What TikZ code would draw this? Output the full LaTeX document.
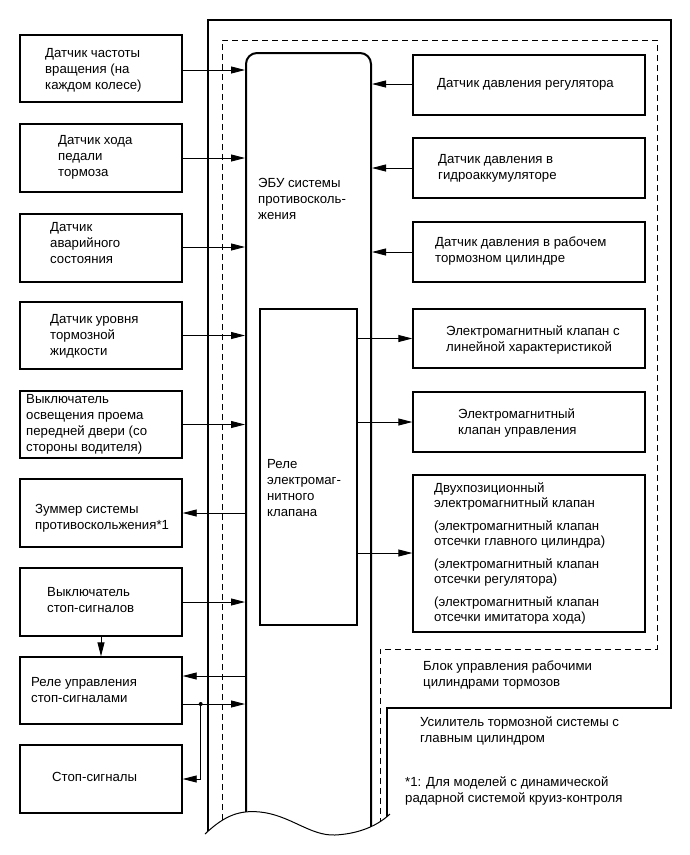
\documentclass[tikz,border=0pt]{standalone}
\usepackage{fontspec}
\setmainfont{Liberation Sans}
\usetikzlibrary{arrows.meta}
\begin{document}
\begin{tikzpicture}[x=1pt,y=-1pt,
  box/.style={draw=black,line width=1.4pt,minimum width=162pt,inner sep=0pt},
  rbox/.style={draw=black,line width=1.4pt,minimum width=232pt,inner sep=0pt},
  txt/.style={anchor=west,inner sep=0pt,align=left,font=\fontsize{13.2}{16}\selectfont},
  arr/.style={line width=0.9pt,-{Triangle[length=14pt,width=7pt]}},
  bound/.style={line width=1.2pt},
  dsh/.style={line width=1pt,dash pattern=on 6pt off 4pt}]
\useasboundingbox (0,0) rectangle (690,855);
% wave clip region
\begin{scope}
\clip (0,0) -- (690,0) -- (690,814) -- (390,814)
  .. controls (375,828) and (355,834) .. (335,835)
  .. controls (310,836) and (290,815) .. (260,812)
  .. controls (240,810) and (225,815) .. (205,834)
  -- (0,834) -- cycle;
\draw[bound] (208,860) -- (208,20) -- (671,20) -- (671,708) -- (387,708) -- (387,860);
\draw[dsh] (222,860) -- (222,40) -- (657,40) -- (657,649) -- (380,649) -- (380,860);
\node[draw=black,line width=2pt,rounded corners=11pt,minimum width=125pt,minimum height=847pt,inner sep=0pt] (ecu) at (308.5,476.5) {};
\end{scope}
\draw[line width=1pt] (205,834)
  .. controls (225,815) and (240,810) .. (260,812)
  .. controls (290,815) and (310,836) .. (335,835)
  .. controls (355,834) and (375,828) .. (390,814);
% relay
\node[draw=black,line width=1.4pt,minimum width=97pt,minimum height=316pt,inner sep=0pt] (rel) at (308.5,467) {};
% left boxes
\node[box,minimum height=67pt] (b1) at (101,68.5) {};
\node[box,minimum height=68pt] (b2) at (101,158) {};
\node[box,minimum height=68pt] (b3) at (101,248) {};
\node[box,minimum height=67pt] (b4) at (101,335.5) {};
\node[box,minimum height=67pt] (b5) at (101,424.5) {};
\node[box,minimum height=68pt] (b6) at (101,513) {};
\node[box,minimum height=68pt] (b7) at (101,602) {};
\node[box,minimum height=67pt] (b8) at (101,690.5) {};
\node[box,minimum height=68pt] (b9) at (101,779) {};
% right boxes
\node[rbox,minimum height=60pt] (r1) at (529,85) {};
\node[rbox,minimum height=60pt] (r2) at (529,168) {};
\node[rbox,minimum height=60pt] (r3) at (529,252) {};
\node[rbox,minimum height=59pt] (r4) at (529,338.5) {};
\node[rbox,minimum height=60pt] (r5) at (529,422) {};
\node[rbox,minimum height=157pt] (r6) at (529,553.5) {};
% texts
\node[txt] at (45,70) {Датчик частоты\\вращения (на\\каждом колесе)};
\node[txt] at (58,157) {Датчик хода\\педали\\тормоза};
\node[txt] at (50,243) {Датчик\\аварийного\\состояния};
\node[txt] at (50,336) {Датчик уровня\\тормозной\\жидкости};
\node[txt] at (26,424) {Выключатель\\освещения проема\\передней двери (со\\стороны водителя)};
\node[txt] at (35,518) {Зуммер системы\\противоскольжения*1};
\node[txt] at (47,600) {Выключатель\\стоп-сигналов};
\node[txt] at (31,690) {Реле управления\\стоп-сигналами};
\node[txt] at (52,777) {Стоп-сигналы};
\node[txt] at (258,199) {ЭБУ системы\\противосколь-\\жения};
\node[txt] at (267,488) {Реле\\электромаг-\\нитного\\клапана};
\node[txt] at (437,84) {Датчик давления регулятора};
\node[txt] at (438,168) {Датчик давления в\\гидроаккумуляторе};
\node[txt] at (435,251) {Датчик давления в рабочем\\тормозном цилиндре};
\node[txt] at (446,340) {Электромагнитный клапан с\\линейной характеристикой};
\node[txt] at (458,423) {Электромагнитный\\клапан управления};
\node[txt,font=\fontsize{13.2}{15}\selectfont] at (434,553) {Двухпозиционный\\электромагнитный клапан\\[8pt](электромагнитный клапан\\отсечки главного цилиндра)\\[8pt](электромагнитный клапан\\отсечки регулятора)\\[8pt](электромагнитный клапан\\отсечки имитатора хода)};
\node[txt] at (423,675) {Блок управления рабочими\\цилиндрами тормозов};
\node[txt] at (420,731) {Усилитель тормозной системы с\\главным цилиндром};
\node[txt] at (405,791) {*1: Для моделей с динамической\\радарной системой круиз-контроля};
% connectors left
\coordinate (b1a) at ([yshift=-1.5pt]b1.east);
\draw[arr] (b1a) -- (b1a -| ecu.west);
\draw[arr] (b2.east) -- (b2.east -| ecu.west);
\coordinate (b3a) at ([yshift=1pt]b3.east);
\draw[arr] (b3a) -- (b3a -| ecu.west);
\draw[arr] (b4.east) -- (b4.east -| ecu.west);
\draw[arr] (b5.east) -- (b5.east -| ecu.west);
\draw[arr] (b6.east -| ecu.west) -- (b6.east);
\draw[arr] (b7.east) -- (b7.east -| ecu.west);
\draw[arr] (b7.south) -- (b8.north);
\coordinate (b8in) at ([yshift=14.5pt]b8.east);
\coordinate (b8out) at ([yshift=-13.5pt]b8.east);
\draw[arr] (b8in -| ecu.west) -- (b8in);
\draw[arr] (b8out) -- (b8out -| ecu.west);
\coordinate (jn) at ([xshift=18pt]b8out);
\fill (jn) circle (2pt);
\draw[arr] (jn) |- (b9.east);
% connectors right
\coordinate (r1a) at ([yshift=1pt]r1.west);
\draw[arr] (r1a) -- (r1a -| ecu.east);
\draw[arr] (r2.west) -- (r2.west -| ecu.east);
\draw[arr] (r3.west) -- (r3.west -| ecu.east);
\draw[arr] (r4.west -| rel.east) -- (r4.west);
\draw[arr] (r5.west -| rel.east) -- (r5.west);
\coordinate (r6a) at ([yshift=0.5pt]r6.west);
\draw[arr] (r6a -| rel.east) -- (r6a);
\end{tikzpicture}
\end{document}
